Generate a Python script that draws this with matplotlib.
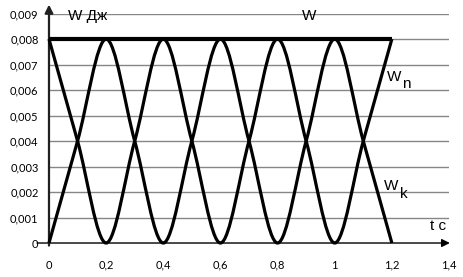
import matplotlib
matplotlib.use("Agg")
import matplotlib.pyplot as plt
from matplotlib.path import Path
from matplotlib.patches import PathPatch

# ---- data ----
t = [0.0, 0.1, 0.2, 0.3, 0.4, 0.5, 0.6, 0.7, 0.8, 0.9, 1.0, 1.1, 1.2]
w_k = [0.008, 0.004, 0.0, 0.004, 0.008, 0.004, 0.0, 0.004, 0.008, 0.004, 0.0, 0.004, 0.008]
w_n = [0.0, 0.004, 0.008, 0.004, 0.0, 0.004, 0.008, 0.004, 0.0, 0.004, 0.008, 0.004, 0.0]
w_total = [0.008, 0.008]
t_total = [0.0, 1.2]

x_ticks = [0, 0.2, 0.4, 0.6, 0.8, 1.0, 1.2, 1.4]
x_tick_labels = ["0", "0,2", "0,4", "0,6", "0,8", "1", "1,2", "1,4"]
y_ticks = [0, 0.001, 0.002, 0.003, 0.004, 0.005, 0.006, 0.007, 0.008, 0.009]
y_tick_labels = ["0", "0,001", "0,002", "0,003", "0,004", "0,005", "0,006", "0,007", "0,008", "0,009"]


def smooth_path(xs, ys):
    """Excel-like smoothed line: cubic Bezier through every point."""
    n = len(xs)
    pts = list(zip(xs, ys))
    verts = [pts[0]]
    codes = [Path.MOVETO]
    for i in range(n - 1):
        p0 = pts[i - 1] if i > 0 else pts[i]
        p1 = pts[i]
        p2 = pts[i + 1]
        p3 = pts[i + 2] if i + 2 < n else pts[i + 1]
        c1 = (p1[0] + (p2[0] - p0[0]) / 6, p1[1] + (p2[1] - p0[1]) / 6)
        c2 = (p2[0] - (p3[0] - p1[0]) / 6, p2[1] - (p3[1] - p1[1]) / 6)
        verts += [c1, c2, p2]
        codes += [Path.CURVE4] * 3
    return Path(verts, codes)


fig = plt.figure(figsize=(4.63, 2.77), dpi=100)
ax = fig.add_axes([0.1058, 0.1227, 0.864, 0.8285])
ax.set_xlim(0, 1.4)
ax.set_ylim(0, 0.009)

for v in y_ticks[1:]:
    ax.axhline(v, color="#868686", lw=1.0, zorder=1)

for s in ax.spines.values():
    s.set_visible(False)

ax.set_xticks(x_ticks)
ax.set_xticklabels(x_tick_labels)
ax.set_yticks(y_ticks)
ax.set_yticklabels(y_tick_labels)
ax.tick_params(axis="both", length=0, labelsize=8, colors="black")
ax.tick_params(axis="y", pad=7.5)
ax.tick_params(axis="x", pad=12)
for lab in ax.get_xticklabels() + ax.get_yticklabels():
    lab.set_family(["Lato", "DejaVu Sans"])

# axes arrows
ax.annotate("", xy=(1.403, 0), xytext=(-0.042, 0),
            arrowprops=dict(arrowstyle="-|>", color="black", lw=1.0,
                            mutation_scale=12, shrinkA=0, shrinkB=0),
            annotation_clip=False, zorder=2)
ax.annotate("", xy=(0, 0.00935), xytext=(0, -0.0001),
            arrowprops=dict(arrowstyle="-|>", color="#202020", lw=1.6,
                            mutation_scale=12, shrinkA=0, shrinkB=0),
            annotation_clip=False, zorder=2)

ax.add_patch(PathPatch(smooth_path(t, w_k), fill=False, ec="black", lw=2.3,
                       zorder=4, clip_on=False))
ax.add_patch(PathPatch(smooth_path(t, w_n), fill=False, ec="black", lw=2.3,
                       zorder=4, clip_on=False))
ax.plot(t_total, w_total, color="black", lw=3.0, zorder=5, solid_capstyle="butt")

fam = ["Liberation Sans", "DejaVu Sans"]
fs = 11
ax.text(0.066, 0.0089, "W Дж", fontsize=fs, family=fam, va="center", ha="left")
ax.text(0.885, 0.0089, "W", fontsize=fs, family=fam, va="center", ha="left")
ax.text(1.183, 0.0065, "W", fontsize=fs, family=fam, va="center", ha="left")
ax.text(1.236, 0.00624, "n", fontsize=fs, family=fam, va="center", ha="left")
ax.text(1.173, 0.00225, "W", fontsize=fs, family=fam, va="center", ha="left")
ax.text(1.227, 0.00192, "k", fontsize=fs, family=fam, va="center", ha="left")
ax.text(1.335, 0.00065, "t c", fontsize=fs, family=fam, va="center", ha="left")

fig.savefig("out.png", dpi=100)
